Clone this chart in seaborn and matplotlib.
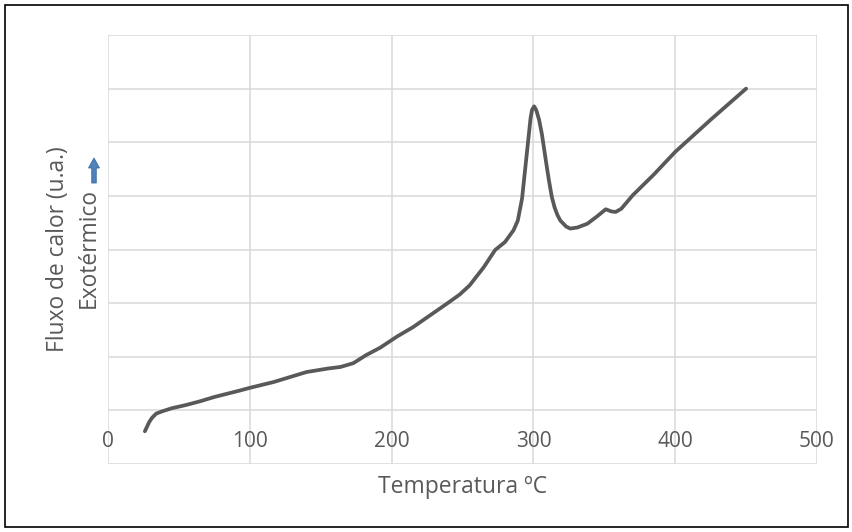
import matplotlib
matplotlib.use("Agg")
import matplotlib.pyplot as plt
import matplotlib.patches as mpatches
import seaborn as sns
import pandas as pd

# Data
temperature = [26, 29, 31, 34, 38, 45, 55, 65, 75, 93, 100, 117, 140, 155, 164, 173,
               182, 192, 204, 215, 227, 239, 248, 255, 265, 273, 280, 286, 289, 292,
               294, 296, 298, 299, 300.5, 302, 304, 306, 309, 311, 313, 315, 317, 319,
               323, 326, 331, 338, 345, 351, 355, 358, 362, 370, 385, 400, 425, 450]
heat_flow = [-0.39, -0.22, -0.14, -0.06, -0.02, 0.04, 0.10, 0.17, 0.25, 0.37, 0.42, 0.53,
             0.715, 0.78, 0.81, 0.88, 1.03, 1.17, 1.38, 1.55, 1.77, 1.99, 2.16, 2.33,
             2.67, 2.99, 3.14, 3.36, 3.54, 3.95, 4.45, 4.95, 5.45, 5.60, 5.67, 5.60,
             5.42, 5.15, 4.62, 4.28, 3.98, 3.78, 3.64, 3.54, 3.43, 3.39, 3.41, 3.48,
             3.62, 3.75, 3.71, 3.70, 3.76, 4.01, 4.40, 4.82, 5.42, 6.00]
x_ticks = [0, 100, 200, 300, 400, 500]
x_tick_labels = ["0", "100", "200", "300", "400", "500"]
y_grid = [-1, 0, 1, 2, 3, 4, 5, 6, 7]

df = pd.DataFrame({"Temperatura": temperature, "Fluxo": heat_flow})

sns.set_theme(style="white")
plt.rcParams["font.family"] = ["Open Sans", "DejaVu Sans"]

W, H = 853, 532
fig = plt.figure(figsize=(W / 100, H / 100), dpi=100)
ax = fig.add_axes([108 / W, 1 - 464 / H, (817 - 108) / W, (464 - 35) / H])

text_color = "#595959"
grid_color = "#d9d9d9"

sns.lineplot(data=df, x="Temperatura", y="Fluxo", ax=ax, color="#595959",
             linewidth=2.7, sort=False, solid_capstyle="round", solid_joinstyle="round")

ax.set_xlim(0, 500)
ax.set_ylim(-1, 7)
ax.set_xticks(x_ticks)
ax.set_xticklabels(x_tick_labels)
ax.set_yticks(y_grid)
ax.set_yticklabels([])
ax.grid(True, color=grid_color, linewidth=1.1)
ax.set_axisbelow(True)
for s in ax.spines.values():
    s.set_visible(False)

ax.tick_params(axis="x", length=0, pad=-16.5, labelsize=15, labelcolor=text_color)
ax.tick_params(axis="y", length=0, left=False, labelleft=False)
for lbl in ax.get_xticklabels():
    lbl.set_va("center")

ax.set_xlabel("Temperatura ºC", fontsize=16.5, color=text_color, va="center")
ax.xaxis.set_label_coords(0.5, (464 - 487) / (464 - 35))
ax.set_ylabel("")

fig.text(58 / W, 1 - 249 / H, "Fluxo de calor (u.a.)", rotation=90, ha="center",
         va="center", fontsize=16.4, color=text_color)
fig.text(89 / W, 1 - 248 / H, "Exotérmico", rotation=90, ha="center",
         va="center", fontsize=16.4, color=text_color)

arrow = mpatches.FancyArrow(94 / 100, (H - 183) / 100, 0, 0.25, width=0.045,
                            head_width=0.11, head_length=0.10,
                            length_includes_head=True, facecolor="#4f81bd",
                            edgecolor="#3a6a9f", linewidth=0.6,
                            transform=fig.dpi_scale_trans)
fig.add_artist(arrow)

border = mpatches.Rectangle((5 / W, 5 / H), (848 - 5) / W, (527 - 5) / H,
                            transform=fig.transFigure, fill=False,
                            edgecolor="black", linewidth=1.2)
fig.add_artist(border)

fig.savefig("out.png", dpi=100)
